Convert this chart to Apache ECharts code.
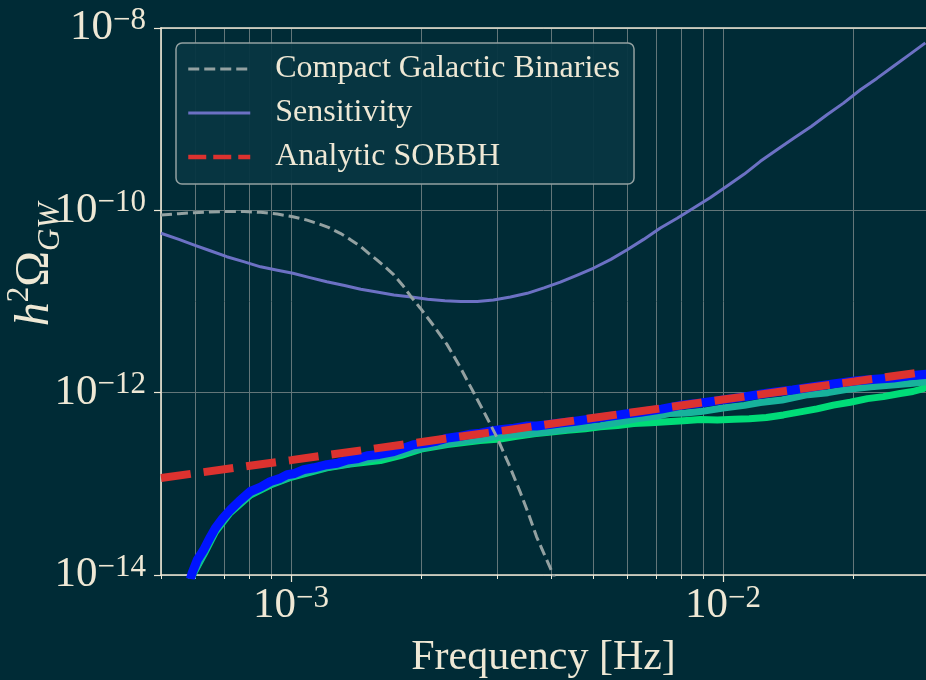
<!DOCTYPE html>
<html>
<head>
<meta charset="utf-8">
<script src="https://cdn.jsdelivr.net/npm/echarts@6/dist/echarts.min.js"></script>
<style>
html,body{margin:0;padding:0;background:#002b36;}
#chart{width:926px;height:680px;}
</style>
</head>
<body>
<div id="chart"></div>
<script>
// ---------------- data ----------------
const xMajorTicks = [1e-3, 1e-2];
const xMinorTicks = [5e-4, 6e-4, 7e-4, 8e-4, 9e-4, 1e-3, 2e-3, 3e-3, 4e-3, 5e-3, 6e-3, 7e-3, 8e-3, 9e-3, 1e-2, 2e-2];
const yTicks = [1e-14, 1e-12, 1e-10, 1e-8];

const cgbFreq = [5.0e-4, 5.5e-4, 5.95e-4, 6.5e-4, 7.1e-4, 7.8e-4, 8.5e-4, 9.3e-4, 1.01e-3, 1.08e-3, 1.15e-3, 1.22e-3, 1.30e-3, 1.37e-3, 1.45e-3, 1.51e-3, 1.58e-3, 1.65e-3, 1.73e-3, 1.81e-3, 1.89e-3, 1.99e-3, 2.14e-3, 2.30e-3, 2.47e-3, 2.65e-3, 2.82e-3, 3.0e-3, 3.2e-3, 3.4e-3, 3.55e-3, 3.7e-3, 3.85e-3, 4.0e-3, 4.15e-3];
const cgbVal  = [8.9e-11, 9.2e-11, 9.4e-11, 9.6e-11, 9.7e-11, 9.7e-11, 9.5e-11, 9.1e-11, 8.5e-11, 7.9e-11, 7.2e-11, 6.5e-11, 5.6e-11, 4.8e-11, 4.0e-11, 3.4e-11, 2.86e-11, 2.4e-11, 1.96e-11, 1.52e-11, 1.15e-11, 8.5e-12, 5.4e-12, 3.34e-12, 1.86e-12, 9.9e-13, 5.7e-13, 3.2e-13, 1.6e-13, 7.9e-14, 4.6e-14, 2.64e-14, 1.72e-14, 1.14e-14, 7.5e-15];

const sensFreq = [5.0e-4, 5.5e-4, 5.95e-4, 6.5e-4, 7.1e-4, 7.8e-4, 8.5e-4, 9.3e-4, 1.01e-3, 1.1e-3, 1.21e-3, 1.33e-3, 1.45e-3, 1.58e-3, 1.73e-3, 1.9e-3, 2.07e-3, 2.27e-3, 2.47e-3, 2.7e-3, 2.94e-3, 3.22e-3, 3.52e-3, 3.85e-3, 4.2e-3, 4.6e-3, 5.02e-3, 5.5e-3, 6.0e-3, 6.55e-3, 7.16e-3, 7.83e-3, 8.55e-3, 9.35e-3, 1.02e-2, 1.12e-2, 1.22e-2, 1.33e-2, 1.46e-2, 1.6e-2, 1.74e-2, 1.9e-2, 2.08e-2, 2.27e-2, 2.48e-2, 2.7e-2, 2.94e-2];
const sensVal  = [5.6e-11, 4.8e-11, 4.18e-11, 3.6e-11, 3.1e-11, 2.72e-11, 2.4e-11, 2.2e-11, 2.04e-11, 1.84e-11, 1.65e-11, 1.5e-11, 1.36e-11, 1.27e-11, 1.18e-11, 1.12e-11, 1.06e-11, 1.02e-11, 9.98e-12, 1.0e-11, 1.04e-11, 1.12e-11, 1.23e-11, 1.41e-11, 1.63e-11, 1.95e-11, 2.33e-11, 2.9e-11, 3.7e-11, 4.8e-11, 6.4e-11, 8.2e-11, 1.06e-10, 1.38e-10, 1.84e-10, 2.5e-10, 3.45e-10, 4.6e-10, 6.2e-10, 8.3e-10, 1.12e-9, 1.5e-9, 2.1e-9, 2.8e-9, 3.8e-9, 5.1e-9, 6.85e-9];

const sobbhFreq = [5e-4, 1e-3, 3e-3, 1e-2, 3e-2];
const sobbhVal  = [1.16e-13, 1.82e-13, 3.75e-13, 8.4e-13, 1.72e-12];

const blueFreq = [5.85e-4, 5.90e-4, 6.07e-4, 6.28e-4, 6.50e-4, 6.68e-4, 6.95e-4, 7.24e-4, 7.6e-4, 8.05e-4, 8.5e-4, 8.96e-4, 9.4e-4, 9.79e-4, 1.02e-3, 1.07e-3, 1.13e-3, 1.21e-3, 1.28e-3, 1.35e-3, 1.42e-3, 1.50e-3, 1.6e-3, 1.73e-3, 1.82e-3, 1.92e-3, 2.05e-3, 2.18e-3, 2.30e-3, 2.45e-3, 2.6e-3, 2.74e-3, 2.9e-3, 3.08e-3, 3.28e-3, 3.5e-3, 3.7e-3, 3.92e-3, 4.2e-3, 4.51e-3, 4.9e-3, 5.37e-3, 5.9e-3, 6.44e-3, 7.2e-3, 7.97e-3, 8.9e-3, 1.0e-2, 1.12e-2, 1.22e-2, 1.31e-2, 1.45e-2, 1.62e-2, 1.8e-2, 2.04e-2, 2.25e-2, 2.48e-2, 2.7e-2, 2.96e-2];
const blueVal  = [9.0e-15, 1.05e-14, 1.47e-14, 1.89e-14, 2.6e-14, 3.27e-14, 4.2e-14, 5.19e-14, 6.5e-14, 8.24e-14, 9.2e-14, 1.06e-13, 1.14e-13, 1.26e-13, 1.30e-13, 1.43e-13, 1.50e-13, 1.62e-13, 1.68e-13, 1.83e-13, 1.88e-13, 2.03e-13, 2.10e-13, 2.26e-13, 2.45e-13, 2.68e-13, 2.78e-13, 2.95e-13, 3.17e-13, 3.30e-13, 3.5e-13, 3.60e-13, 3.8e-13, 3.95e-13, 4.08e-13, 4.3e-13, 4.3e-13, 4.45e-13, 4.65e-13, 4.82e-13, 5.1e-13, 5.43e-13, 5.8e-13, 6.09e-13, 6.6e-13, 7.26e-13, 7.7e-13, 8.34e-13, 9.0e-13, 9.6e-13, 1.01e-12, 1.07e-12, 1.16e-12, 1.25e-12, 1.35e-12, 1.40e-12, 1.45e-12, 1.53e-12, 1.59e-12];

const tealFreq = [5.86e-4, 5.91e-4, 6.3e-4, 6.68e-4, 7.24e-4, 8.05e-4, 8.96e-4, 1.0e-3, 1.1e-3, 1.21e-3, 1.37e-3, 1.55e-3, 1.73e-3, 1.92e-3, 2.15e-3, 2.4e-3, 2.74e-3, 3.1e-3, 3.5e-3, 3.92e-3, 4.4e-3, 5.2e-3, 5.8e-3, 6.44e-3, 7.0e-3, 7.5e-3, 8.2e-3, 8.87e-3, 1.0e-2, 1.12e-2, 1.22e-2, 1.37e-2, 1.57e-2, 1.75e-2, 1.97e-2, 2.2e-2, 2.5e-2, 2.75e-2, 2.96e-2];
const tealVal  = [8.5e-15, 1.0e-14, 1.78e-14, 3.05e-14, 4.95e-14, 7.7e-14, 9.9e-14, 1.2e-13, 1.37e-13, 1.52e-13, 1.67e-13, 1.9e-13, 2.06e-13, 2.36e-13, 2.62e-13, 2.85e-13, 3.08e-13, 3.4e-13, 3.55e-13, 3.72e-13, 4.0e-13, 4.35e-13, 4.8e-13, 5.25e-13, 5.5e-13, 5.9e-13, 6.0e-13, 6.2e-13, 6.8e-13, 7.25e-13, 7.8e-13, 8.3e-13, 9.5e-13, 1.0e-12, 1.1e-12, 1.16e-12, 1.22e-12, 1.27e-12, 1.32e-12];

const greenFreq = [5.87e-4, 5.92e-4, 6.3e-4, 6.68e-4, 7.24e-4, 8.05e-4, 8.96e-4, 1.0e-3, 1.1e-3, 1.21e-3, 1.37e-3, 1.61e-3, 1.8e-3, 2.0e-3, 2.3e-3, 2.74e-3, 3.05e-3, 3.3e-3, 3.65e-3, 4.0e-3, 4.36e-3, 4.8e-3, 5.2e-3, 5.7e-3, 6.21e-3, 6.8e-3, 7.42e-3, 8.1e-3, 8.87e-3, 9.7e-3, 1.06e-2, 1.15e-2, 1.26e-2, 1.38e-2, 1.51e-2, 1.65e-2, 1.80e-2, 1.97e-2, 2.16e-2, 2.35e-2, 2.57e-2, 2.75e-2, 2.91e-2, 2.96e-2];
const greenVal  = [8.5e-15, 1.0e-14, 1.72e-14, 2.95e-14, 4.85e-14, 7.5e-14, 9.7e-14, 1.18e-13, 1.33e-13, 1.5e-13, 1.65e-13, 1.8e-13, 2.05e-13, 2.4e-13, 2.7e-13, 2.98e-13, 3.1e-13, 3.3e-13, 3.55e-13, 3.7e-13, 3.88e-13, 4.02e-13, 4.22e-13, 4.37e-13, 4.6e-13, 4.68e-13, 4.8e-13, 4.93e-13, 5.08e-13, 5.02e-13, 5.1e-13, 5.18e-13, 5.35e-13, 5.7e-13, 6.15e-13, 6.65e-13, 7.3e-13, 7.85e-13, 8.6e-13, 9.05e-13, 9.8e-13, 1.03e-12, 1.11e-12, 1.42e-12];

// ---------------- helpers ----------------
const zip = (xs, ys) => xs.map((x, i) => [x, ys[i]]);
const powLabel = v => {
  const e = Math.round(Math.log10(v));
  return '{b|10}{s|' + (e < 0 ? '\u2212' : '') + Math.abs(e) + '}';
};

const TXT = '#eee8d5';
const GRID = '#637679';
const SERIF = "'Liberation Serif', 'DejaVu Serif', serif";
const labelRich = {
  b: {fontSize: 43, lineHeight: 46, fontFamily: SERIF, color: TXT},
  s: {fontSize: 31, lineHeight: 30, fontFamily: SERIF, color: TXT, verticalAlign: 'top'}
};

const X_MIN = 5e-4, X_MAX = 0.0295, Y_MIN = 1e-14, Y_MAX = 1e-8;

const chart = echarts.init(document.getElementById('chart'), null, {renderer: 'canvas'});
chart.setOption({
  backgroundColor: '#002b36',
  animation: false,
  grid: {left: 161, top: 28, right: 0, bottom: 105, containLabel: false, outerBoundsMode: 'none'},
  legend: {
    left: 176, top: 43, orient: 'vertical',
    backgroundColor: 'rgba(7,54,66,0.95)',
    borderColor: '#93a1a1', borderWidth: 1.5, borderRadius: 6,
    padding: [9, 14, 10, 10],
    itemWidth: 62, itemHeight: 14, itemGap: 10,
    selectedMode: false,
    itemStyle: {opacity: 0},
    textStyle: {fontFamily: SERIF, fontSize: 32, lineHeight: 34, color: TXT, padding: [0, 0, 0, 20]},
    data: [
      {name: 'Compact Galactic Binaries', itemStyle: {opacity: 0}, lineStyle: {width: 3, type: [11, 5]}},
      {name: 'Sensitivity', itemStyle: {opacity: 0}, lineStyle: {width: 3}},
      {name: 'Analytic SOBBH', itemStyle: {opacity: 0}, lineStyle: {width: 4.5, type: [18, 7]}}
    ]
  },
  xAxis: [
    {
      type: 'log', logBase: 10, min: X_MIN, max: X_MAX, position: 'bottom',
      name: 'Frequency [Hz]', nameLocation: 'middle', nameGap: 62, nameMoveOverlap: false,
      nameTextStyle: {fontFamily: SERIF, fontSize: 42, color: TXT},
      axisLine: {show: true, lineStyle: {color: TXT, width: 1.6}},
      axisTick: {show: true, length: 4, customValues: xMinorTicks, lineStyle: {color: TXT, width: 1}},
      axisLabel: {show: true, customValues: xMajorTicks, margin: 8, formatter: powLabel, rich: labelRich},
      splitLine: {show: true, lineStyle: {color: GRID, width: 1}},
      minorTick: {show: false}, minorSplitLine: {show: false}
    },
    {
      type: 'log', logBase: 10, min: X_MIN, max: X_MAX, position: 'top',
      axisLine: {show: true, lineStyle: {color: TXT, width: 1.6}},
      axisTick: {show: false}, axisLabel: {show: false}, splitLine: {show: false}
    },
    {
      type: 'log', logBase: 10, min: X_MIN, max: X_MAX, position: 'bottom',
      axisLine: {show: false},
      axisTick: {show: true, length: 7, customValues: xMajorTicks, lineStyle: {color: TXT, width: 1.2}},
      axisLabel: {show: false}, splitLine: {show: false}
    }
  ],
  yAxis: {
    type: 'log', logBase: 10, min: Y_MIN, max: Y_MAX,
    name: '{i|h}{sup|2}{n|\u03A9}{sub|GW}', nameLocation: 'middle', nameRotate: 90, nameGap: 95, nameMoveOverlap: false,
    nameTextStyle: {
      padding: [0, 0, 0, 74],
      rich: {
        i: {fontSize: 48, lineHeight: 62, fontFamily: SERIF, fontStyle: 'italic', color: TXT},
        sup: {fontSize: 31, lineHeight: 31, fontFamily: SERIF, color: TXT, verticalAlign: 'top'},
        n: {fontSize: 48, lineHeight: 62, fontFamily: SERIF, color: TXT},
        sub: {fontSize: 31, lineHeight: 31, fontFamily: SERIF, fontStyle: 'italic', color: TXT, verticalAlign: 'bottom'}
      }
    },
    axisLine: {show: true, lineStyle: {color: TXT, width: 1.6}},
    axisTick: {show: true, length: 7, customValues: yTicks, lineStyle: {color: TXT, width: 1.2}},
    axisLabel: {show: true, customValues: yTicks, margin: 15, formatter: powLabel, rich: labelRich},
    splitLine: {show: true, lineStyle: {color: GRID, width: 1}},
    minorTick: {show: false}, minorSplitLine: {show: false}
  },
  series: [
    {name: 'SOBBH model (green)', type: 'line', data: zip(greenFreq, greenVal), showSymbol: false, symbol: 'none', clip: true, z: 2,
     lineStyle: {color: '#00dc78', width: 7, join: 'round'}},
    {name: 'SOBBH model (teal)', type: 'line', data: zip(tealFreq, tealVal), showSymbol: false, symbol: 'none', clip: true, z: 3,
     lineStyle: {color: '#17b39c', width: 7, join: 'round'}},
    {name: 'SOBBH model (blue)', type: 'line', data: zip(blueFreq, blueVal), showSymbol: false, symbol: 'none', clip: true, z: 4,
     lineStyle: {color: '#0014ff', width: 9, join: 'round'}},
    {name: 'Sensitivity', type: 'line', data: zip(sensFreq, sensVal), showSymbol: false, symbol: 'none', clip: true, z: 5,
     color: '#6c71c4', lineStyle: {color: '#6c71c4', width: 3, join: 'round'}},
    {name: 'Analytic SOBBH', type: 'line', data: zip(sobbhFreq, sobbhVal), showSymbol: false, symbol: 'none', clip: true, z: 6,
     color: '#dc322f', lineStyle: {color: '#dc322f', width: 8, type: [30, 13], cap: 'butt'}},
    {name: 'Compact Galactic Binaries', type: 'line', data: zip(cgbFreq, cgbVal), showSymbol: false, symbol: 'none', clip: true, z: 7,
     color: '#93a1a1', lineStyle: {color: '#93a1a1', width: 3, type: [11, 5], cap: 'butt', join: 'round'}}
  ]
});
</script>
</body>
</html>
